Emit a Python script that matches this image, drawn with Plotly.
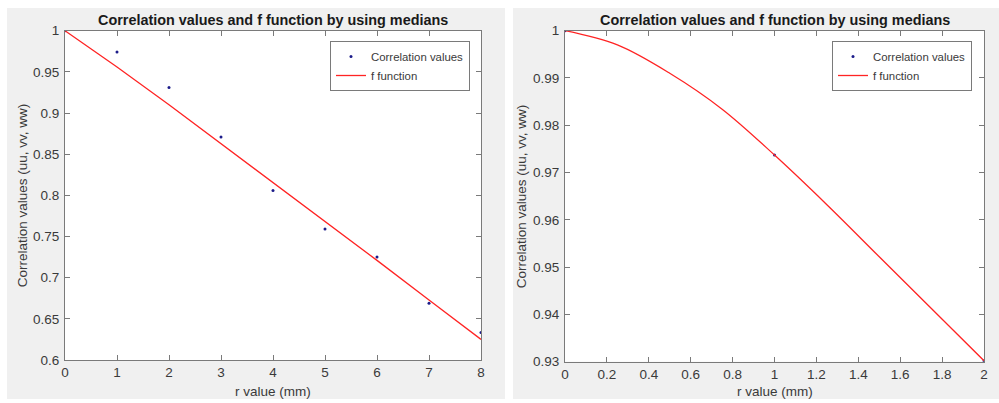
import plotly.graph_objects as go

# ---- data ----
r_left = [0, 1, 2, 3, 4, 5, 6, 7, 8]
corr_left = [1.0, 0.974, 0.931, 0.871, 0.806, 0.759, 0.725, 0.669, 0.6335]
f_left_r = [0, 1, 2, 3, 4, 5, 6, 7, 8]
f_left = [1.0, 0.956, 0.910, 0.863, 0.816, 0.769, 0.721, 0.673, 0.625]

r_right = [0, 1, 2]
corr_right = [1.0, 0.9737, 0.9302]
f_right_r = [0, 0.25, 0.5, 0.75, 1.0, 1.25, 1.5, 1.75, 2.0]
f_right = [1.0, 0.9970, 0.9910, 0.9834, 0.9737, 0.9632, 0.9522, 0.9412, 0.9302]

title_text = "Correlation values and f function by using medians"
xlabel = "r value (mm)"
ylabel = "Correlation values (uu, vv, ww)"
left_yticks = [0.6, 0.65, 0.7, 0.75, 0.8, 0.85, 0.9, 0.95, 1]
left_xticks = [0, 1, 2, 3, 4, 5, 6, 7, 8]
right_yticks = [0.93, 0.94, 0.95, 0.96, 0.97, 0.98, 0.99, 1]
right_xticks = [0, 0.2, 0.4, 0.6, 0.8, 1, 1.2, 1.4, 1.6, 1.8, 2]

W, H = 999, 403
FONT = "Liberation Sans, Arial, Helvetica, sans-serif"
TXT = "#3a3a3a"
AX = "#7a7a7a"
DOT = "#1c1c8a"
RED = "#ff2424"
FS = 13.5

fig = go.Figure()

fig.add_trace(go.Scatter(x=r_left, y=corr_left, mode="markers", name="Correlation values",
                         marker=dict(size=3, color=DOT), xaxis="x", yaxis="y", legend="legend"))
fig.add_trace(go.Scatter(x=f_left_r, y=f_left, mode="lines", name="f function",
                         line=dict(color=RED, width=1.3), xaxis="x", yaxis="y", legend="legend"))
fig.add_trace(go.Scatter(x=r_right, y=corr_right, mode="markers", name="Correlation values",
                         marker=dict(size=3, color=DOT), xaxis="x2", yaxis="y2", legend="legend2"))
fig.add_trace(go.Scatter(x=f_right_r, y=f_right, mode="lines", name="f function",
                         line=dict(color=RED, width=1.3, shape="spline", smoothing=1.0),
                         xaxis="x2", yaxis="y2", legend="legend2"))

def px_x(p):
    return p / W

def px_y(p):
    return 1 - p / H

axis_common = dict(showline=True, linecolor=AX, linewidth=1, mirror="ticks",
                   ticks="inside", ticklen=5, tickcolor=AX, showgrid=False, zeroline=False,
                   automargin=False,
                   tickfont=dict(size=FS, color=TXT, family=FONT))

legend_common = dict(yanchor="top", xanchor="left", bgcolor="white", bordercolor=AX,
                     borderwidth=1, font=dict(size=11.4, color=TXT, family=FONT),
                     tracegroupgap=0, itemwidth=30)

fig.update_layout(
    width=W, height=H,
    margin=dict(l=0, r=0, t=0, b=0, pad=0, autoexpand=False),
    paper_bgcolor="white",
    plot_bgcolor="white",
    font=dict(family=FONT, color=TXT, size=FS),
    xaxis=dict(domain=[px_x(65), px_x(481)], range=[0, 8], tickvals=left_xticks,
               anchor="y", ticklabelstandoff=0, **axis_common),
    yaxis=dict(domain=[px_y(360), px_y(30.7)], range=[0.6, 1], tickvals=left_yticks,
               ticktext=[f"{v:g}" for v in left_yticks], anchor="x", ticklabelstandoff=2,
               **axis_common),
    xaxis2=dict(domain=[px_x(565), px_x(984)], range=[0, 2], tickvals=right_xticks,
                ticktext=[f"{v:g}" for v in right_xticks], anchor="y2", ticklabelstandoff=0,
                **axis_common),
    yaxis2=dict(domain=[px_y(361.7), px_y(30.7)], range=[0.93, 1], tickvals=right_yticks,
                ticktext=[f"{v:g}" for v in right_yticks], anchor="x2", ticklabelstandoff=2,
                **axis_common),
    legend=dict(x=px_x(330), y=px_y(41), **legend_common),
    legend2=dict(x=px_x(832), y=px_y(41), **legend_common),
    showlegend=True,
)

# gray panel backgrounds
fig.add_shape(type="rect", xref="paper", yref="paper", x0=px_x(7), x1=px_x(505),
              y0=px_y(399), y1=px_y(8), fillcolor="#f0f0f0", line=dict(width=0), layer="below")
fig.add_shape(type="rect", xref="paper", yref="paper", x0=px_x(513), x1=1,
              y0=px_y(399), y1=px_y(8), fillcolor="#f0f0f0", line=dict(width=0), layer="below")
# white plot areas on top of the gray panels
for xr, yr in [("x domain", "y domain"), ("x2 domain", "y2 domain")]:
    fig.add_shape(type="rect", xref=xr, yref=yr, x0=0, x1=1, y0=0, y1=1,
                  fillcolor="white", line=dict(width=0), layer="below")

# titles and labels
for cx in [(65 + 481) / 2, (565 + 984) / 2]:
    fig.add_annotation(text=f"<b>{title_text}</b>", x=px_x(cx), y=px_y(20), xref="paper", yref="paper",
                       showarrow=False, font=dict(size=14.4, color="#1a1a1a", family=FONT),
                       xanchor="center", yanchor="middle")
    fig.add_annotation(text=xlabel, x=px_x(cx), y=px_y(391.5), xref="paper", yref="paper",
                       showarrow=False, font=dict(size=FS, color=TXT, family=FONT),
                       xanchor="center", yanchor="middle")
for cy, ylx in [((30.7 + 360) / 2, 22), ((30.7 + 361.7) / 2, 521)]:
    fig.add_annotation(text=ylabel, x=px_x(ylx), y=px_y(cy), xref="paper", yref="paper",
                       showarrow=False, textangle=-90, font=dict(size=FS, color=TXT, family=FONT),
                       xanchor="center", yanchor="middle")

fig.write_html("out.html")
